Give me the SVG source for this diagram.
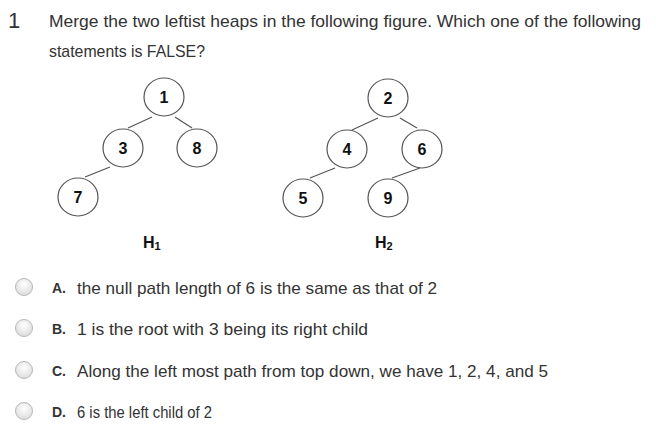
<svg xmlns="http://www.w3.org/2000/svg" width="656" height="433" viewBox="0 0 656 433">
<defs>
<radialGradient id="rg" cx="50%" cy="35%" r="65%">
<stop offset="0" stop-color="#ffffff"/>
<stop offset="1" stop-color="#dcdcdc"/>
</radialGradient>
</defs>
<style>
.t{font-family:"Liberation Sans",Arial,sans-serif;font-size:17px;fill:#333}
.lbl{font-family:"Liberation Sans",Arial,sans-serif;font-size:14px;font-weight:bold;fill:#333}
.num{font-family:"Liberation Sans",Arial,sans-serif;font-size:16px;font-weight:bold;fill:#111;text-anchor:middle}
.h{font-family:"Liberation Sans",Arial,sans-serif;font-size:16px;font-weight:bold;fill:#111}
.sub{font-size:11px}
.node ellipse{fill:#fff;stroke:#555;stroke-width:1.2}
.edges line{stroke:#555;stroke-width:1.2}
.radio{fill:url(#rg);stroke:#b8b8b8;stroke-width:1}
</style>
<rect width="656" height="433" fill="#fff"/>
<text x="8" y="28" style="font-family:'Liberation Sans',Arial,sans-serif;font-size:22px;fill:#333">1</text>
<text class="t" x="49" y="27" textLength="592" lengthAdjust="spacingAndGlyphs">Merge the two leftist heaps in the following figure. Which one of the following</text>
<text class="t" x="49" y="57" textLength="156" lengthAdjust="spacingAndGlyphs">statements is FALSE?</text>
<g class="edges">
<line x1="152" y1="117" x2="128" y2="128"/>
<line x1="175" y1="117" x2="192" y2="128"/>
<line x1="110" y1="167" x2="85" y2="177"/>
<line x1="378" y1="118" x2="352" y2="130"/>
<line x1="400" y1="118" x2="417" y2="128"/>
<line x1="335" y1="168" x2="310" y2="178"/>
<line x1="420" y1="168" x2="392" y2="178"/>
</g>
<g id="n1" class="node"><ellipse cx="164" cy="97" rx="20" ry="19"/><text class="num" x="164" y="103">1</text></g>
<g id="n3" class="node"><ellipse cx="123" cy="148" rx="20" ry="19"/><text class="num" x="123" y="154">3</text></g>
<g id="n8" class="node"><ellipse cx="197" cy="148" rx="20" ry="19"/><text class="num" x="197" y="154">8</text></g>
<g id="n7" class="node"><ellipse cx="78" cy="197" rx="20" ry="19"/><text class="num" x="78" y="203">7</text></g>
<g id="n2" class="node"><ellipse cx="388" cy="98" rx="20" ry="19"/><text class="num" x="388" y="104">2</text></g>
<g id="n4" class="node"><ellipse cx="347" cy="149" rx="20" ry="19"/><text class="num" x="347" y="155">4</text></g>
<g id="n6" class="node"><ellipse cx="422" cy="149" rx="20" ry="19"/><text class="num" x="422" y="155">6</text></g>
<g id="n5" class="node"><ellipse cx="303" cy="198" rx="20" ry="19"/><text class="num" x="303" y="204">5</text></g>
<g id="n9" class="node"><ellipse cx="388" cy="198" rx="20" ry="19"/><text class="num" x="388" y="204">9</text></g>
<text class="h" x="143" y="248">H<tspan class="sub" dy="2">1</tspan></text>
<text class="h" x="375" y="248">H<tspan class="sub" dy="2">2</tspan></text>
<g id="optA"><circle class="radio" cx="24" cy="287" r="8.5"/><text class="lbl" x="52" y="293">A.</text><text class="t" x="77" y="294" textLength="360" lengthAdjust="spacingAndGlyphs">the null path length of 6 is the same as that of 2</text></g>
<g id="optB"><circle class="radio" cx="24" cy="328" r="8.5"/><text class="lbl" x="52" y="334">B.</text><text class="t" x="77" y="335" textLength="291" lengthAdjust="spacingAndGlyphs">1 is the root with 3 being its right child</text></g>
<g id="optC"><circle class="radio" cx="24" cy="370" r="8.5"/><text class="lbl" x="52" y="376">C.</text><text class="t" x="77" y="377" textLength="471" lengthAdjust="spacingAndGlyphs">Along the left most path from top down, we have 1, 2, 4, and 5</text></g>
<g id="optD"><circle class="radio" cx="24" cy="411" r="8.5"/><text class="lbl" x="52" y="417">D.</text><text class="t" x="77" y="418" textLength="135" lengthAdjust="spacingAndGlyphs">6 is the left child of 2</text></g>
</svg>
